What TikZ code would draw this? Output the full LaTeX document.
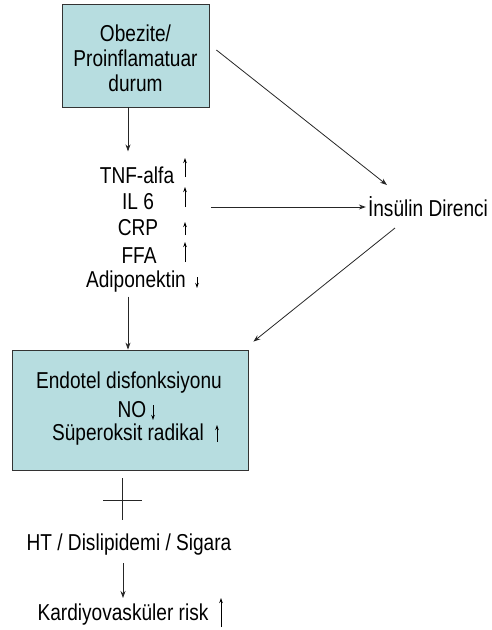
\documentclass[tikz,border=0pt]{standalone}
\usepackage{fontspec}
\setmainfont[FakeStretch=0.83]{Liberation Sans}
\usetikzlibrary{arrows.meta}
\definecolor{boxfill}{RGB}{183,221,224}
\begin{document}
\begin{tikzpicture}[x=1pt,y=-1pt,
 box/.style={draw=black!80, fill=boxfill, line width=0.8pt, inner sep=0},
 lbl/.style={font=\fontsize{23}{25}\selectfont, inner sep=0, align=center},
 arr/.style={draw=black!85, line width=0.8pt, -{Stealth[length=7pt,width=5pt]}},
 plain/.style={draw=black!85, line width=0.8pt},
 tick/.style={draw=black, line width=0.9pt, -{Stealth[length=5pt,width=3.5pt]}}]
\useasboundingbox (0,0) rectangle (491,630);
% top box
\node[box, minimum width=147, minimum height=103] (obez) at (135.5,55.5) {};
\node[lbl] (obeztxt) at (135.5,58) {Obezite/\\Proinflamatuar\\durum};
% list
\node[lbl] (tnf) at (137,175) {TNF-alfa};
\node[lbl] (il6) at (138,202) {IL 6};
\node[lbl] (crp) at (138,228) {CRP};
\node[lbl] (ffa) at (139,256) {FFA};
\node[lbl] (adipo) at (136,282) {Adiponektin};
\draw[tick] (185,177) -- (185,158);
\draw[tick] (185,207) -- (185,187);
\draw[tick] (185,235) -- (185,222);
\draw[tick] (185,262) -- (185,242);
\draw[tick] (197,277) -- (197,288);
% insulin
\node[lbl] (ins) at (428,207) {İnsülin Direnci};
% bottom box
\node[box, minimum width=236, minimum height=120] (endo) at (130,410) {};
\node[lbl] (endo1) at (129,383) {Endotel disfonksiyonu};
\node[lbl] (no) at (132,410) {NO};
\node[lbl] (super) at (128,435) {Süperoksit radikal};
\draw[tick] (153,405) -- (153,420);
\draw[tick] (217,442) -- (217,425);
% bottom texts
\node[lbl] (ht) at (129,545) {HT / Dislipidemi / Sigara};
\node[lbl] (kardi) at (123,615) {Kardiyovasküler risk};
\draw[tick] (221,627) -- (221,598);
% connectors
\draw[arr] ([xshift=-7.5pt]obez.south) -- ++(0,44);
\draw[arr] ([xshift=-157pt]ins.west) -- ([xshift=-2pt]ins.west);
\draw[arr] ([shift={(7pt,5.5pt)}]obez.east) -- ([shift={(-41pt,22pt)}]ins.center);
\draw[arr] ([shift={(-33pt,-21pt)}]ins.center) -- ([shift={(5pt,8pt)}]endo.north east);
\draw[arr] ([xshift=-2pt,yshift=53pt]endo.north) -- ([xshift=-2pt]endo.north);
\coordinate (cr) at (122,500);
\draw[plain] ([yshift=22pt]cr) -- ([yshift=-20pt]cr);
\draw[plain] ([xshift=-19pt]cr) -- ([xshift=20pt]cr);
\draw[arr] ([shift={(-6pt,-18pt)}]ht.center) -- ([shift={(0pt,17pt)}]kardi.center);
\end{tikzpicture}
\end{document}
